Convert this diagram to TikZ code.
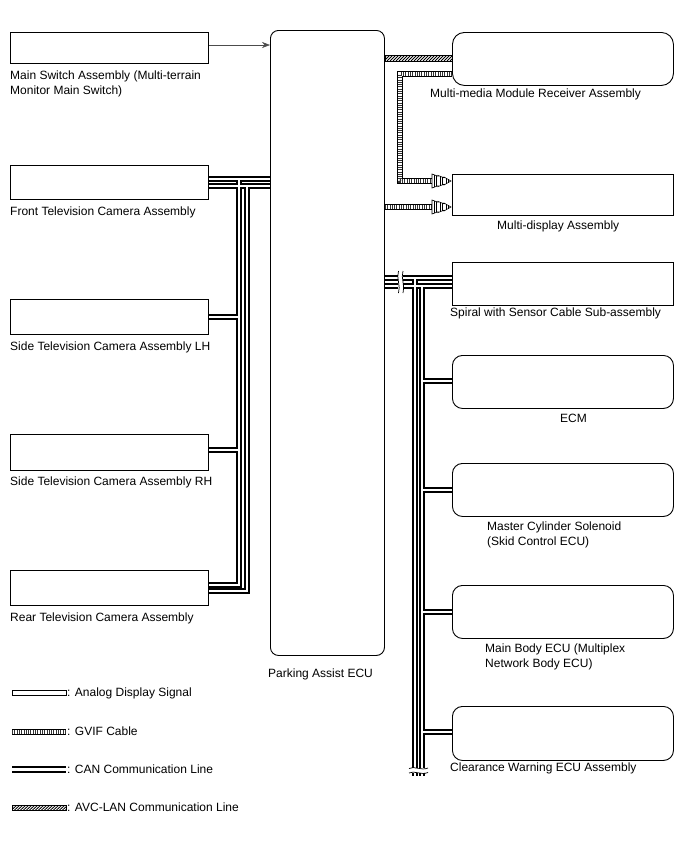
\documentclass[tikz,border=0pt]{standalone}
\usepackage{fontspec}
\setmainfont{Liberation Sans}
\usetikzlibrary{arrows.meta}
\newcommand\mycanpaths[1]{%
  % left buses
  \draw[#1] (fc.east |- 0,179) -- (ecu.west |- 0,179);
  \draw[#1] (fc.east |- 0,186) -- (ecu.west |- 0,186);
  \draw[#1] (239,179) -- (239,585) -- (rc.east |- 0,585);
  \draw[#1] (239,317) -- (lh.east |- 0,317);
  \draw[#1] (239,450) -- (rh.east |- 0,450);
  \draw[#1] (247,186) -- (247,591) -- (rc.east |- 0,591);
  % right buses
  \draw[#1] (ecu.east |- 0,278) -- (sp.west |- 0,278);
  \draw[#1] (ecu.east |- 0,286) -- (sp.west |- 0,286);
  \draw[#1] (415,278) -- (415,776);
  \draw[#1] (422,286) -- (422,776);
  \draw[#1] (422,381) -- (ecm.west |- 0,381);
  \draw[#1] (422,490) -- (mc.west |- 0,490);
  \draw[#1] (422,612) -- (mb.west |- 0,612);
  \draw[#1] (422,732) -- (cw.west |- 0,732);
}
\newcommand\mygvif[1]{%
  \draw[gvifA] #1;
  \draw[gvifB] #1;
  \draw[gvifC] #1;
}
\begin{document}
\begin{tikzpicture}[x=1pt,y=-1pt,
  font=\fontsize{12}{14}\selectfont,
  box/.style={draw=black, line width=0.9pt, fill=white, anchor=north west, inner sep=0pt, minimum width=198pt},
  rbox/.style={box, minimum width=221pt},
  rnd/.style={rounded corners=10pt},
  lbl/.style={anchor=base west, inner sep=0pt},
  canblack/.style={line width=6.8pt, black},
  canwhite/.style={line width=2.2pt, white},
  gvifA/.style={line width=6.5pt, black},
  gvifB/.style={line width=4.8pt, white},
  gvifC/.style={line width=4.8pt, black!80, dash pattern=on 0.7pt off 1.6pt},
  gvifhead/.style={draw=black, fill=white, line width=0.6pt},
  sigarrow/.style={-{Stealth[length=8pt,width=6pt]}, line width=0.5pt, black!70},
  brk/.style={line width=0.7pt, black},
]
\useasboundingbox (0,0) rectangle (688,852);

% ---------- boxes ----------
\node[box, minimum height=31pt] (ms) at (10,32) {};
\node[box, minimum height=34pt] (fc) at (10,165) {};
\node[box, minimum height=35pt] (lh) at (10,299) {};
\node[box, minimum height=36pt] (rh) at (10,434) {};
\node[box, minimum height=35pt] (rc) at (10,570) {};
\node[box, rnd, rounded corners=8pt, minimum width=114pt, minimum height=625pt] (ecu) at (270,30) {};
\node[rbox, rnd, rounded corners=12pt, minimum height=53pt] (mm) at (452,32) {};
\node[rbox, minimum height=41pt] (md) at (452,174) {};
\node[rbox, minimum height=43pt] (sp) at (452,262) {};
\node[rbox, rnd, minimum height=53pt] (ecm) at (452,355) {};
\node[rbox, rnd, minimum height=53pt] (mc) at (452,463) {};
\node[rbox, rnd, minimum height=53pt] (mb) at (452,585) {};
\node[rbox, rnd, minimum height=54pt] (cw) at (452,706) {};

% ---------- labels ----------
\node[lbl] (tms1) at (10,79) {Main Switch Assembly (Multi-terrain};
\node[lbl] (tms2) at (10,94) {Monitor Main Switch)};
\node[lbl] (tfc) at (10,215) {Front Television Camera Assembly};
\node[lbl] (tlh) at (10,350) {Side Television Camera Assembly LH};
\node[lbl] (trh) at (10,485) {Side Television Camera Assembly RH};
\node[lbl] (trc) at (10,621) {Rear Television Camera Assembly};
\node[lbl] (tecu) at (268,677) {Parking Assist ECU};
\node[lbl] (tmm) at (430,97) {Multi-media Module Receiver Assembly};
\node[lbl] (tmd) at (497,229) {Multi-display Assembly};
\node[lbl] (tsp) at (450,316) {Spiral with Sensor Cable Sub-assembly};
\node[lbl] (tecm) at (560,422) {ECM};
\node[lbl] (tmc1) at (487,530) {Master Cylinder Solenoid};
\node[lbl] (tmc2) at (487,545) {(Skid Control ECU)};
\node[lbl] (tmb1) at (485,652) {Main Body ECU (Multiplex};
\node[lbl] (tmb2) at (485,667) {Network Body ECU)};
\node[lbl] (tcw) at (450,771) {Clearance Warning ECU Assembly};

% ---------- main switch signal ----------
\draw[sigarrow] (ms.east |- 0,45) -- (ecu.west |- 0,45);

% ---------- CAN buses ----------
\mycanpaths{canblack}
\mycanpaths{canwhite}
% break on right horizontal
\fill[white] (398,271) rectangle (403,293);
\draw[brk] (398.5,271) .. controls (396,278) and (401,286) .. (398.5,293);
\draw[brk] (403,271) .. controls (400.5,278) and (405.5,286) .. (403,293);
% break at bottom of right verticals
\fill[white] (409,768) rectangle (428,772.5);
\draw[brk] (409,768.5) .. controls (414,765.5) and (421,771) .. (428,768);
\draw[brk] (409,773) .. controls (414,770) and (421,775.5) .. (428,772.5);

% ---------- AVC-LAN ----------
\begin{scope}
  \clip (ecu.east |- 0,55) rectangle (mm.west |- 0,61);
  \foreach \i in {378,381,...,456} \draw[line width=0.8pt] (\i,61) -- (\i+6,55);
\end{scope}
\draw[line width=0.5pt] (ecu.east |- 0,55) rectangle (mm.west |- 0,61);

% ---------- GVIF ----------
\mygvif{(mm.west |- 0,74) -- (400,74) -- (400,181) -- (434,181)}
\mygvif{(ecu.east |- 0,207) -- (434,207)}
\foreach \yy in {181,207}{
  \draw[gvifhead] (432,\yy-7) -- (438,\yy-4.8) -- (438,\yy-5.6) -- (444,\yy-3.2) -- (444,\yy-4) -- (451,\yy)
     -- (444,\yy+4) -- (444,\yy+3.2) -- (438,\yy+5.6) -- (438,\yy+4.8) -- (432,\yy+7) -- cycle;
  \draw[line width=0.4pt] (434,\yy-6) -- (434,\yy+6) (436,\yy-5.3) -- (436,\yy+5.3)
     (440,\yy-4.8) -- (440,\yy+4.8) (442,\yy-4.2) -- (442,\yy+4.2)
     (446,\yy-2.8) -- (446,\yy+2.8) (448,\yy-1.8) -- (448,\yy+1.8);
}

% ---------- legend ----------
\draw[line width=0.6pt, fill=white] (12,690) rectangle (66,695.5);
\node[lbl] (la) at (67,696) {: Analog Display Signal};
\mygvif{(12,732) -- (66,732)}
\node[lbl] (lg) at (67,735) {: GVIF Cable};
\draw[canblack] (12,769.5) -- (66,769.5);
\draw[canwhite] (12,769.5) -- (66,769.5);
\node[lbl] (lc) at (67,773) {: CAN Communication Line};
\begin{scope}
  \clip (12,805) rectangle (66,810.5);
  \foreach \i in {8,11,...,70} \draw[line width=0.8pt] (\i,810.5) -- (\i+6,805);
\end{scope}
\draw[line width=0.5pt] (12,805) rectangle (66,810.5);
\node[lbl] (lv) at (67,811) {: AVC-LAN Communication Line};
\end{tikzpicture}
\end{document}
